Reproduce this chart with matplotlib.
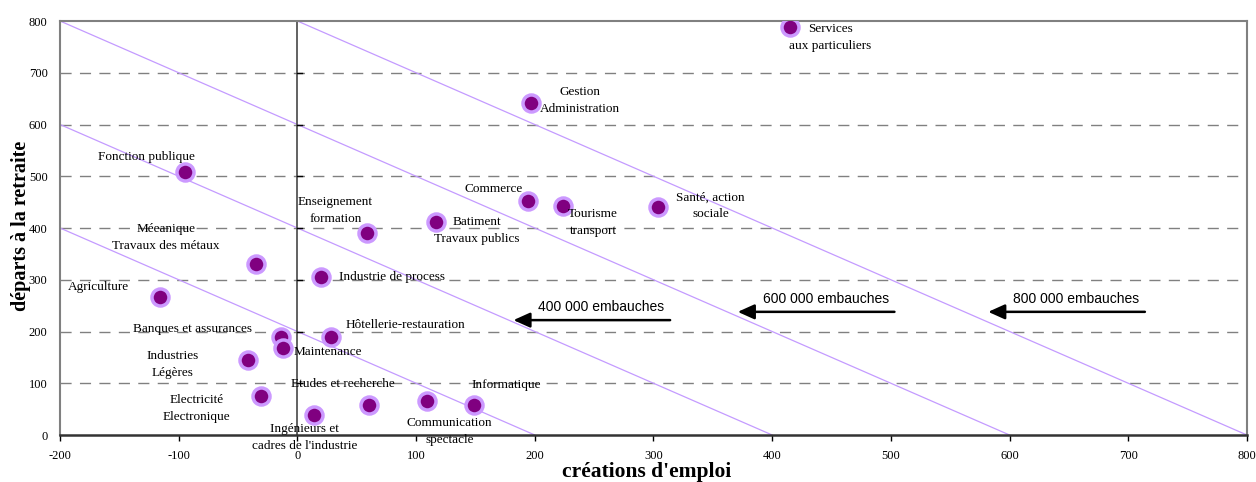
import numpy as np
import matplotlib
matplotlib.use("Agg")
import matplotlib.pyplot as plt

plt.rcParams["axes.unicode_minus"] = False

# secteurs : créations d'emploi (x) et départs à la retraite (y), en milliers
secteurs = ["Services\naux particuliers", "Gestion\nAdministration", "Commerce",
            "Tourisme\ntransport", "Santé, action\nsociale", "Batiment\nTravaux publics",
            "Fonction publique", "Enseignement\nformation", "Méeanique\nTravaux des métaux",
            "Agriculture", "Industrie de process", "Banques et assurances",
            "Hôtellerie-restauration", "Maintenance", "Industries\nLégères",
            "Etudes et recherche", "Electricité\nElectronique",
            "Ingénieurs et\ncadres de l'industrie", "Informatique",
            "Communication\nspectacle"]
creations = [415, 197, 194, 224, 304, 117, -95, 59, -35, -116, 20, -14, 28, -12, -42,
             60, -31, 14, 149, 109]
departs = [788, 642, 452, 443, 441, 412, 508, 390, 330, 267, 305, 189, 189, 168, 145,
           58, 75, 39, 58, 66]

# position des étiquettes (coordonnées des données)
lab_x = [449, 238, 165, 249, 348, 151, -127, 32, -111, -168, 80, -88, 91, 26, -105,
         38, -85, 6, 176, 128]
lab_y = [769, 647, 475, 410, 443, 396, 537, 433, 381, 286, 305, 205, 213, 160, 137,
         99, 52, -4, 97, 6]

# droites d'iso-embauches : x + y = constante
iso_totaux = [200, 400, 600, 800]
fleches = ["400 000 embauches", "600 000 embauches", "800 000 embauches"]
fleche_queue = [314, 503, 714]
fleche_tete = [182, 371, 582]
fleche_y = [222, 238, 238]

yticks = [0, 100, 200, 300, 400, 500, 600, 700, 800]
xticks = [-200, -100, 0, 100, 200, 300, 400, 500, 600, 700, 800]

serif = "Liberation Serif"
sans = "Liberation Sans"

fig = plt.figure(figsize=(12.56, 4.82), dpi=100)
ax = fig.add_axes([0.0478, 0.0975, 0.9450, 0.8589])
ax.set_xlim(-200, 800)
ax.set_ylim(0, 800)

# grille horizontale en tirets
for y in yticks[1:-1]:
    ax.axhline(y, color="#808080", lw=1, dashes=(8, 6), zorder=1)

# droites diagonales
for tot in iso_totaux:
    xs = np.array([max(-200, tot - 800), tot])
    ax.plot(xs, tot - xs, color="#c49bff", lw=0.9, zorder=2)

# axe vertical à x = 0
ax.axvline(0, color="#555555", lw=1.3, zorder=2)
for y in yticks[1:-1]:
    ax.plot([0, 4], [y, y], color="black", lw=1, zorder=2)

ax.scatter(creations, departs, s=150, c="#800080", edgecolors="#cc99ff",
           linewidths=2.5, zorder=5)

for nom, lx, ly in zip(secteurs, lab_x, lab_y):
    ax.text(lx, ly, nom, ha="center", va="center", family=serif, fontsize=9.5,
            linespacing=1.55, zorder=6)

for txt, x0, x1, y in zip(fleches, fleche_queue, fleche_tete, fleche_y):
    ax.annotate("", xy=(x1, y), xytext=(x0, y),
                arrowprops=dict(arrowstyle="-|>,head_length=1.0,head_width=0.45",
                                color="black", lw=1.8, shrinkA=0, shrinkB=0), zorder=6)
    ax.text((x0 + x1) / 2 + 8, y + 12, txt, ha="center", va="bottom", family=sans,
            fontsize=10, zorder=6)

for side in ["top", "left", "right"]:
    ax.spines[side].set_color("#808080")
    ax.spines[side].set_linewidth(1.5)
ax.spines["bottom"].set_color("#333333")
ax.spines["bottom"].set_linewidth(1.8)

ax.set_xticks(xticks)
ax.set_yticks(yticks)
ax.tick_params(axis="y", length=0, pad=9, labelsize=9)
ax.tick_params(axis="x", length=4, width=1, direction="out", pad=7, labelsize=9)
for lab in ax.get_xticklabels() + ax.get_yticklabels():
    lab.set_family(serif)

ax.set_xlabel("créations d'emploi", family=serif, fontsize=15.5, fontweight="bold")
ax.set_ylabel("départs à la retraite", family=serif, fontsize=14.5, fontweight="bold")
ax.xaxis.set_label_coords(0.4945, -0.089)
ax.xaxis.label.set(va="center", ha="center")
ax.yaxis.set_label_coords(-0.0329, 0.505)
ax.yaxis.label.set(va="center", ha="center", rotation_mode="default")

fig.savefig("out.png", dpi=100)
